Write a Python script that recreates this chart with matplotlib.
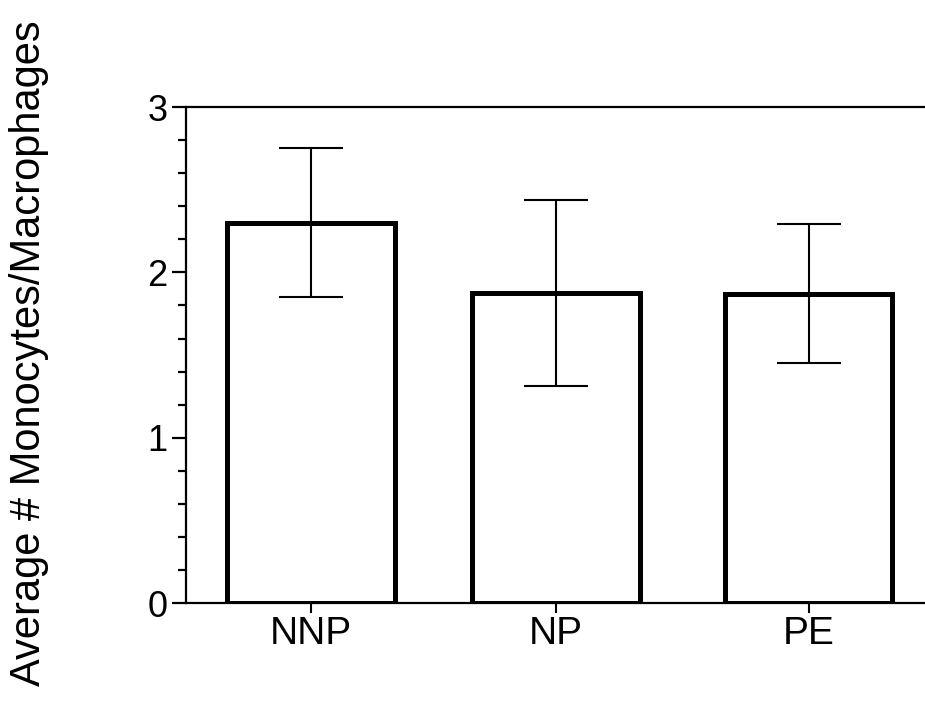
import matplotlib
matplotlib.use("Agg")
import matplotlib.pyplot as plt
from matplotlib.ticker import MultipleLocator

# data
groups = ["NNP", "NP", "PE"]
means = [2.30, 1.875, 1.87]
errs = [0.45, 0.56, 0.42]

plt.rcParams["font.family"] = ["Liberation Sans", "DejaVu Sans"]

fig = plt.figure(figsize=(9.25, 7.07), dpi=100)
ax = fig.add_axes([0.201, 0.147, 0.811, 0.7016])

x = [0, 0.98, 1.99]
ax.bar(x, means, width=0.67, color="white", edgecolor="black", linewidth=3.6, zorder=2)
ax.errorbar(x, means, yerr=errs, fmt="none", ecolor="black", elinewidth=1.5,
            capsize=23, capthick=1.5, zorder=3)

ax.set_xlim(-0.5, 2.5)
ax.set_ylim(0, 3)
ax.set_xticks(x)
ax.set_xticklabels(groups)
ax.yaxis.set_major_locator(MultipleLocator(1))
ax.yaxis.set_minor_locator(MultipleLocator(0.2))

ax.spines["right"].set_visible(False)
for s in ["left", "bottom", "top"]:
    ax.spines[s].set_linewidth(1.6)

ax.tick_params(axis="y", which="major", length=10, width=1.6, labelsize=26, pad=3)
ax.tick_params(axis="y", which="minor", length=6, width=1.6)
ax.tick_params(axis="x", which="major", length=7, width=1.5, labelsize=28, pad=2)

fig.text(0.031, 0.50, "Average # Monocytes/Macrophages", rotation=90,
         ha="center", va="center", fontsize=30)

fig.savefig("out.png", dpi=100)
